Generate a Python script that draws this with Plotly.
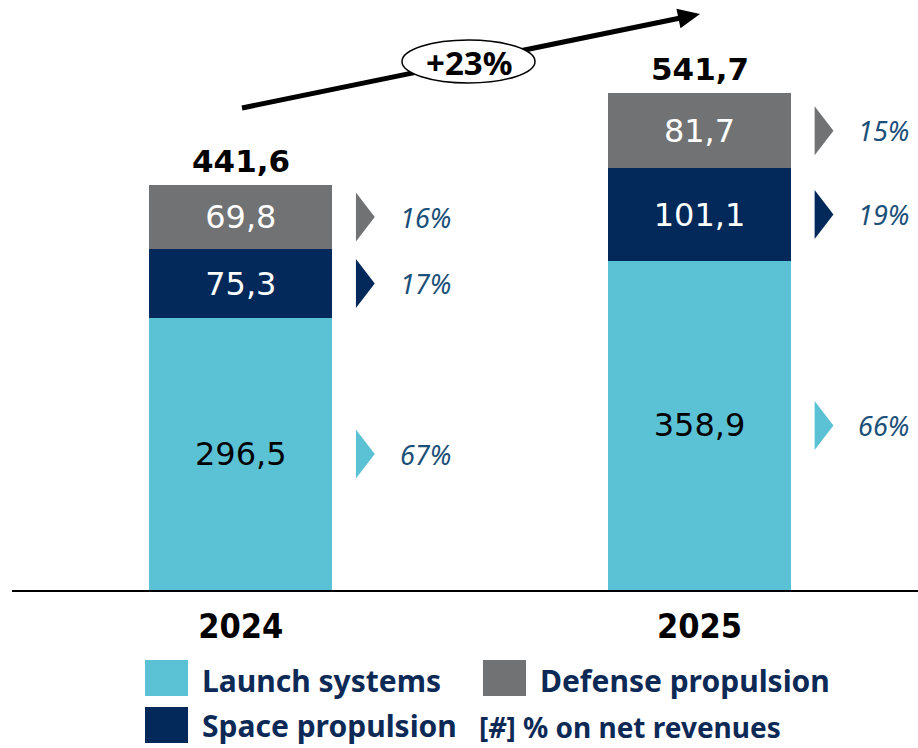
import plotly.graph_objects as go
import math

years = ["2024", "2025"]
launch = [296.5, 358.9]
space = [75.3, 101.1]
defense = [69.8, 81.7]
growth_label = "+23%"

C_LAUNCH = "#5bc2d5"
C_SPACE = "#03295a"
C_DEF = "#717274"
C_PCT = "#1b5079"
C_LEG = "#0d2a57"

W, H = 918, 748
L, R, T, B = 12, 0, 0, 158
PW, PH = W - L - R, H - T - B
PX_PER_X = 458.7
X0 = (L - 240.8) / PX_PER_X
X1 = X0 + PW / PX_PER_X
YMAX = PH / 0.917

def fmt(v):
    return f"{v:.1f}".replace(".", ",")

xs = list(range(len(years)))
totals = [a + b + c for a, b, c in zip(launch, space, defense)]
BW = 183 / PX_PER_X

fig = go.Figure()
series = [
    ("Launch systems", launch, C_LAUNCH, "black"),
    ("Space propulsion", space, C_SPACE, "white"),
    ("Defense propulsion", defense, C_DEF, "white"),
]
for name, vals, col, tcol in series:
    fig.add_trace(go.Bar(
        x=xs, y=vals, name=name, width=BW,
        marker=dict(color=col, line=dict(width=0)),
        text=[fmt(v) for v in vals], textposition="inside",
        insidetextanchor="middle", textangle=0,
        textfont=dict(family="DejaVu Sans", size=32, color=tcol),
        constraintext="none", showlegend=False, hoverinfo="skip",
    ))

shapes = []
annotations = []

for i in xs:
    base = 0.0
    for name, vals, col, tcol in series:
        v = vals[i]
        yc = base + v / 2
        hh = 26.7
        shapes.append(dict(
            type="path", xref="x", yref="y",
            path=f"M {i+0.251},{yc-hh} L {i+0.292},{yc} L {i+0.251},{yc+hh} Z",
            fillcolor=col, line=dict(width=0),
        ))
        pct = round(v / totals[i] * 100)
        annotations.append(dict(
            x=i + 0.402, y=yc, xref="x", yref="y", text=f"<i>{pct}%</i>",
            showarrow=False, font=dict(family="Noto Sans", size=27, color=C_PCT),
            xanchor="center", yanchor="middle",
        ))
        base += v
    annotations.append(dict(
        x=i, y=totals[i], xref="x", yref="y", text=f"<b>{fmt(totals[i])}</b>",
        showarrow=False, yshift=24, xanchor="center", yanchor="middle",
        font=dict(family="DejaVu Sans", size=31, color="black"),
    ))

def pp(px, py):
    return (px - L) / PW, (T + PH - py) / PH

# growth arrow
tail = (242, 108)
tip = (700, 14)
dx, dy = tip[0] - tail[0], tip[1] - tail[1]
ln = math.hypot(dx, dy)
ux, uy = dx / ln, dy / ln
nx, ny = -uy, ux
hl, hw = 22, 10
bx, by = tip[0] - hl * ux, tip[1] - hl * uy
a = pp(*tail); b = pp(bx + 2 * ux, by + 2 * uy)
shapes.append(dict(type="line", xref="paper", yref="paper", x0=a[0], y0=a[1], x1=b[0], y1=b[1],
                   line=dict(color="black", width=5)))
p1 = pp(*tip); p2 = pp(bx + hw * nx, by + hw * ny); p3 = pp(bx - hw * nx, by - hw * ny)
shapes.append(dict(type="path", xref="paper", yref="paper",
                   path=f"M {p1[0]},{p1[1]} L {p2[0]},{p2[1]} L {p3[0]},{p3[1]} Z",
                   fillcolor="black", line=dict(width=0)))
e0 = pp(402, 83); e1 = pp(535, 40)
shapes.append(dict(type="circle", xref="paper", yref="paper", x0=e0[0], y0=e0[1], x1=e1[0], y1=e1[1],
                   fillcolor="white", line=dict(color="black", width=1.5)))
c = pp(469, 62)
annotations.append(dict(x=c[0], y=c[1], xref="paper", yref="paper", text=f"<b>{growth_label}</b>",
                        showarrow=False, xanchor="center", yanchor="middle",
                        font=dict(family="Noto Sans", size=33, color="black")))

# legend
leg = [
    ("Launch systems", C_LAUNCH, 145, 660, 200, 680),
    ("Defense propulsion", C_DEF, 483, 660, 538, 680),
    ("Space propulsion", C_SPACE, 145, 707, 200, 725),
]
for name, col, sx, sy, tx, ty in leg:
    q0 = pp(sx, sy + 36); q1 = pp(sx + 43, sy)
    shapes.append(dict(type="rect", xref="paper", yref="paper", x0=q0[0], y0=q0[1], x1=q1[0], y1=q1[1],
                       fillcolor=col, line=dict(width=0)))
    t = pp(tx, ty)
    annotations.append(dict(x=t[0], y=t[1], xref="paper", yref="paper", text=f"<b>{name}</b>",
                            showarrow=False, xanchor="left", yanchor="middle",
                            font=dict(family="Noto Sans", size=30, color=C_LEG)))
t = pp(478, 727)
annotations.append(dict(x=t[0], y=t[1], xref="paper", yref="paper",
                        text="<b>[<i>#</i>] % on net revenues</b>", borderpad=0,
                        showarrow=False, xanchor="left", yanchor="middle",
                        font=dict(family="Noto Sans", size=28, color=C_LEG)))

fig.update_layout(
    barmode="stack", width=W, height=H,
    margin=dict(l=L, r=R, t=T, b=B, pad=0),
    paper_bgcolor="white", plot_bgcolor="white",
    shapes=shapes, annotations=annotations, showlegend=False,
    xaxis=dict(range=[X0, X1], tickvals=xs, ticktext=[f"<b>{y}</b>" for y in years],
               showgrid=False, zeroline=False, showline=True, linecolor="black", linewidth=2,
               ticks="", ticklabelstandoff=5,
               tickfont=dict(family="DejaVu Sans Condensed, Liberation Sans Narrow, DejaVu Sans", size=34, color="black")),
    yaxis=dict(range=[0, YMAX], visible=False, showgrid=False, zeroline=False),
)
fig.write_html("out.html", config={"displayModeBar": False},
               post_script="document.body.style.margin='0';document.body.style.overflow='hidden';")
